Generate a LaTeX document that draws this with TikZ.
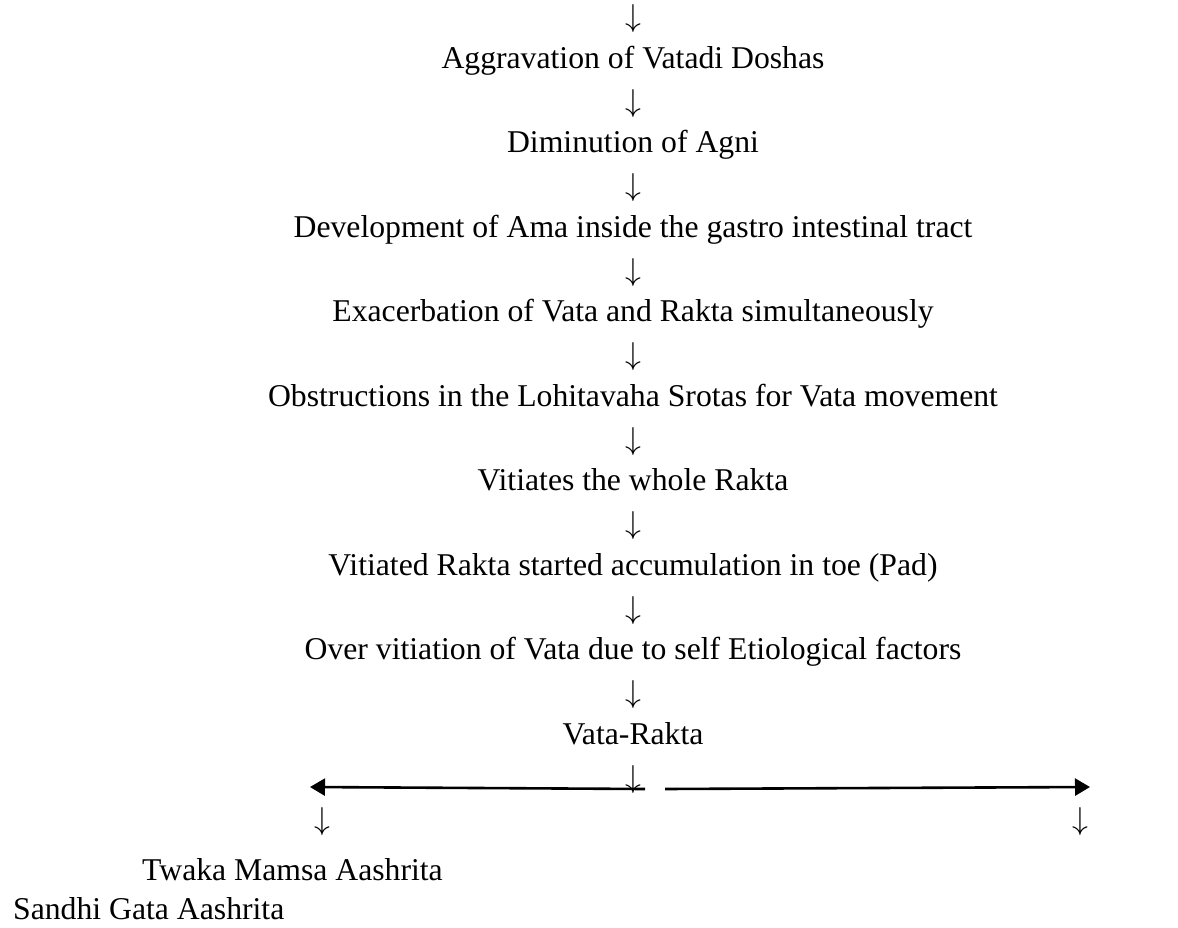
\RequirePackage{fix-cm}
\documentclass[tikz,border=0pt]{standalone}
\usepackage{fontspec}
\setmainfont{Liberation Serif}
\usetikzlibrary{arrows.meta}

\begin{document}
\begin{tikzpicture}[x=1bp, y=-1bp,
  every node/.style={font=\fontsize{31.7bp}{38bp}\selectfont, inner sep=0pt},
  branch/.style={line width=2.6bp, -{Triangle[length=15bp, width=17bp]}}]
\useasboundingbox (0,0) rectangle (1178,928);
\foreach \t [count=\i] in {Aggravation of Vatadi Doshas, Diminution of Agni,
  Development of Ama inside the gastro intestinal tract,
  Exacerbation of Vata and Rakta simultaneously,
  Obstructions in the Lohitavaha Srotas for Vata movement,
  Vitiates the whole Rakta, Vitiated Rakta started accumulation in toe (Pad),
  Over vitiation of Vata due to self Etiological factors, Vata-Rakta}{
  \node (a\i) at (633, {19+84.5*(\i-1)}) {$\downarrow$};
  \node[anchor=base] (s\i) at (633, {68+84.5*(\i-1)}) {\t};
}
\node (a10) at (633,780) {$\downarrow$};
\coordinate (gapL) at (645,789);
\coordinate (gapR) at (665,789);
\coordinate (tipL) at (310,787);
\coordinate (tipR) at (1090,787);
\draw[branch] (gapL) -- (tipL);
\draw[branch] (gapR) -- (tipR);
\node (dL) at (322,822) {$\downarrow$};
\node (dR) at (1080,822) {$\downarrow$};
\node[anchor=base west] (twaka) at (142,880) {Twaka Mamsa Aashrita};
\node[anchor=base west] (sandhi) at (13,919) {Sandhi Gata Aashrita};
\end{tikzpicture}
\end{document}
